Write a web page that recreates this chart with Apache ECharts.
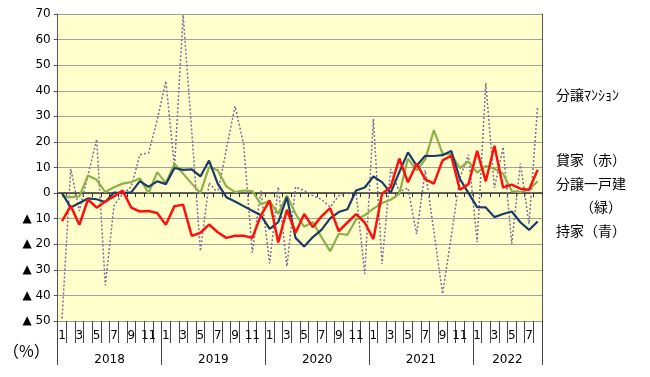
<!DOCTYPE html>
<html>
<head>
<meta charset="utf-8">
<script src="https://cdn.jsdelivr.net/npm/echarts@6/dist/echarts.min.js"></script>
<style>
    html, body { margin: 0; padding: 0; background: #fff; }
    #chart { width: 650px; height: 377px; }
</style>
</head>
<body>
<div id="chart"></div>
<script>
    // 2018年1月～2022年8月（56か月）
    const years = [2018, 2019, 2020, 2021, 2022];
    const yearMonths = [12, 12, 12, 12, 8];
    const months = [];
    yearMonths.forEach(n => {
        for (let m = 1; m <= n; m++) months.push(String(m));
    });

    // 前年同月比（％）
    const mansion = [-49, 9.5, -7, 7, 21, -36, -5, -0.3, 2.4, 15, 15.7, 28.5,
        43.8, 10, 69.6, 24, -22.7, 4, 0, 17, 34, 19, -23.2, 1,
        -27.5, 2.4, -28.6, 2.4, 1, -1, -2.5, -5.5, -1, 0, 0.3, -31.6,
        29, -27.7, 9.5, 0.5, 2, -16, 8.9, -15, -39.4, -17, 6, 15,
        -19.2, 43, 2, 18, -19.8, 11.6, -12, 34];
    const kashiya = [-11, -5, -12.4, -2.5, -5.7, -3.3, -1.3, 1.0, -5.7, -7.2, -7, -7.8,
        -12.4, -5.1, -4.6, -16.7, -15.5, -12.3, -15.3, -17.5, -16.7, -16.7, -17.5, -8.7,
        -2.9, -19.3, -6.5, -15.5, -8.2, -13.3, -9.1, -5.9, -14.9, -11.5, -8.2, -11.5,
        -18, -0.3, 2.3, 13.5, 4.2, 11.5, 5.4, 3.7, 12.8, 14.6, 1.3, 3.5,
        16.5, 4.6, 18.5, 2.2, 3.3, 1.7, 1.3, 9.1];
    const bunjoIkko = [-1.2, -1.6, -1.3, 6.9, 5.2, 0.4, 2.3, 3.7, 4.3, 5.7, 0, 8.2,
        3.9, 11.5, 7.6, 3.7, 0, 10.2, 8.9, 2.6, 0.4, 1.0, 0.8, -4.4,
        -3.1, -8.1, -0.9, -8.1, -13.1, -11.4, -17.2, -22.7, -15.9, -16.3, -10.3, -8.7,
        -6.1, -3.9, -2.6, -0.3, 13.5, 8.9, 13.1, 24.6, 15.4, 15.1, 9.8, 12.4,
        8, 10.6, 9.5, 7.6, 0.8, 0.4, 1.3, 4.6];
    const mochiie = [0, -5.6, -3.9, -2.1, -2.4, -3.5, 0.2, 0, 0.3, 4.7, 2.4, 4.6,
        3.5, 9.8, 9.1, 9.3, 6.5, 12.7, 3.7, -1.6, -3.3, -5.1, -6.9, -8.7,
        -14, -11.4, -1.6, -17.5, -20.9, -17.2, -14.4, -9.9, -7.4, -6.3, 1.0, 2.2,
        6.5, 4.3, 0.1, 8.2, 15.9, 10.7, 14.6, 14.5, 14.8, 16.5, 5.6, 0,
        -5.5, -5.6, -9.4, -8.2, -7.2, -11.4, -14.4, -11.1];

    const yearTicks = [0, 12, 24, 36, 48, 56];
    const yearLabelPos = [6, 18, 30, 42, 52];

    const numFont = '"DejaVu Sans", sans-serif';
    const jpFont = '"Noto Sans CJK JP", sans-serif';

    const chart = echarts.init(document.getElementById('chart'), null, {renderer: 'canvas'});

    function lineSeries(name, data, color, width, type) {
        return {
            name: name,
            type: 'line',
            data: data,
            xAxisIndex: 0,
            symbol: 'none',
            animation: false,
            lineStyle: {color: color, width: width, type: type || 'solid'}
        };
    }

    const option = {
        animation: false,
        grid: {
            left: 53, right: 108, top: 14, bottom: 56,
            show: true,
            backgroundColor: '#FFFFCC',
            borderWidth: 0
        },
        xAxis: [
            {
                // 月ラベル
                type: 'category',
                data: months,
                position: 'bottom',
                boundaryGap: true,
                axisLine: {onZero: false, show: true, lineStyle: {color: '#999', width: 1}},
                axisTick: {show: true, interval: 0, length: 22, lineStyle: {color: '#444'}},
                axisLabel: {
                    interval: (i) => i % 2 === 0,
                    margin: 9,
                    fontFamily: numFont,
                    fontSize: 12,
                    color: '#000'
                },
                splitLine: {show: false}
            },
            {
                // ゼロ線
                type: 'category',
                data: months,
                position: 'bottom',
                boundaryGap: true,
                axisLine: {onZero: true, show: true, lineStyle: {color: '#333', width: 1.5}},
                axisTick: {show: true, interval: 0, length: 4, lineStyle: {color: '#333'}},
                axisLabel: {show: false},
                splitLine: {show: false}
            },
            {
                // 年ラベル
                type: 'value',
                min: 0,
                max: 56,
                position: 'bottom',
                axisLine: {show: false, onZero: false},
                axisTick: {show: true, customValues: yearTicks, length: 44, lineStyle: {color: '#444'}},
                axisLabel: {
                    customValues: yearLabelPos,
                    formatter: v => String(years[yearLabelPos.indexOf(v)]),
                    margin: 33,
                    fontFamily: numFont,
                    fontSize: 12,
                    color: '#000'
                },
                splitLine: {show: false}
            }
        ],
        yAxis: [
            {
                type: 'value',
                min: -50,
                max: 70,
                interval: 10,
                name: '（%）',
                nameLocation: 'start',
                nameGap: 22,
                nameTextStyle: {fontFamily: jpFont, fontSize: 16, color: '#000', align: 'right', padding: [0, 8, 0, 0]},
                axisLine: {show: true, lineStyle: {color: '#555', width: 1}},
                axisTick: {show: true, length: 4, lineStyle: {color: '#555'}},
                axisLabel: {
                    formatter: v => v < 0 ? '▲ ' + (-v) : String(v),
                    margin: 7,
                    fontFamily: numFont,
                    fontSize: 12,
                    color: '#000'
                },
                splitLine: {show: true, lineStyle: {color: '#A0A0A0', width: 1}}
            },
            {
                type: 'value',
                min: -50,
                max: 70,
                interval: 10,
                position: 'right',
                axisLine: {show: true, lineStyle: {color: '#555', width: 1}},
                axisTick: {show: false},
                axisLabel: {show: false},
                splitLine: {show: false}
            }
        ],
        graphic: [
            {type: 'text', left: 556, top: 88, style: {text: '分譲ﾏﾝｼｮﾝ', font: '14px "Noto Sans CJK JP"', fill: '#000'}},
            {type: 'text', left: 556, top: 153, style: {text: '貸家（赤）', font: '14px "Noto Sans CJK JP"', fill: '#000'}},
            {type: 'text', left: 556, top: 177, style: {text: '分譲一戸建', font: '14px "Noto Sans CJK JP"', fill: '#000'}},
            {type: 'text', left: 580, top: 200, style: {text: '（緑）', font: '14px "Noto Sans CJK JP"', fill: '#000'}},
            {type: 'text', left: 556, top: 224, style: {text: '持家（青）', font: '14px "Noto Sans CJK JP"', fill: '#000'}}
        ],
        series: [
            lineSeries('分譲マンション', mansion, '#7D6B9E', 1.5, [2, 2]),
            lineSeries('分譲一戸建', bunjoIkko, '#8DB04A', 2.2),
            lineSeries('持家', mochiie, '#1B3A68', 2.2),
            lineSeries('貸家', kashiya, '#FF1010', 2.5)
        ]
    };
    chart.setOption(option);
</script>
</body>
</html>
